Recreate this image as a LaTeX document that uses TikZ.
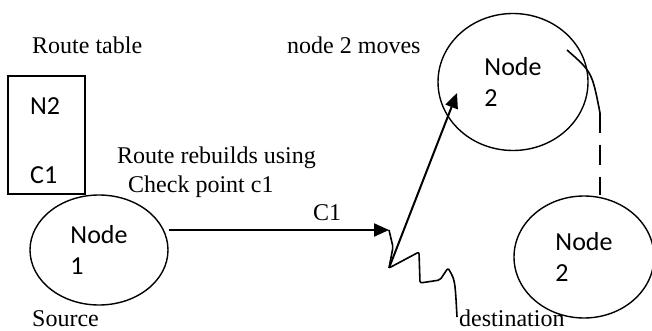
\documentclass[tikz,border=0pt]{standalone}
\usepackage{fontspec}
\setmainfont{Liberation Serif}
\newfontfamily\labelfont{Carlito}
\usetikzlibrary{shapes.geometric, arrows.meta}

\begin{document}
\begin{tikzpicture}[x=1pt, y=-1pt,
  every node/.style={inner sep=0pt, font=\fontsize{24}{28}\selectfont},
  mobile/.style={draw, ellipse, line width=1.4pt, align=left, font=\labelfont\fontsize{26}{31}\selectfont},
  entry/.style={anchor=base west, font=\labelfont\fontsize{26}{31}\selectfont},
  caption/.style={anchor=base west},
  link/.style={line width=2pt, -{Triangle[length=15pt, width=13pt]}},
  trace/.style={line width=1.6pt, line join=round}]
\useasboundingbox (0,0) rectangle (652,331);

\node[draw, line width=1.4pt, minimum width=77, minimum height=118] (rt) at (46.5,135) {};
\node[entry] (rtn) at (30,115) {N2};
\node[entry] (rtc) at (30,183) {C1};

\node[mobile, minimum width=138, minimum height=110] (n1) at (99,250) {Node\\1};
\node[mobile, minimum width=150, minimum height=137] (n2a) at (513,82) {Node\\2};
\node[mobile, minimum width=140, minimum height=122] (n2b) at (584,257) {Node\\2};

\node[caption] (title) at (32,54) {Route table};
\node[caption] (moves) at (287,54) {node 2 moves};
\node[caption] (rb1) at (117,164) {Route rebuilds using};
\node[caption] (rb2) at (128,192) {Check point c1};
\node[caption] (cp) at (313,220) {C1};
\node[caption] (src) at (32,326) {Source};
\node[caption] (dst) at (459,326) {destination};

\coordinate (z0) at (389,230);
\coordinate (z1) at (393,247);
\coordinate (z2) at (389,268);
\coordinate (z3) at (419,252);
\coordinate (z4) at (420,283);
\coordinate (z5) at (440,280);
\coordinate (z6) at (448,268);
\coordinate (z7) at (457,317);
\coordinate (tip) at (457,93);
\coordinate (m0) at (567,50);
\coordinate (m1) at (600,113);

\draw[link] (n1.east |- z0) -- (z0);
\draw[trace, rounded corners=2pt] (z0) -- (z1) -- (z2) -- (z3) -- (z4) -- (z5) -- (z6) .. controls (455,280) .. (z7);
\draw[link] (z2) -- (tip);

\draw[trace] (m0) .. controls (592,72) .. (m1);
\draw[trace, dash pattern=on 20pt off 12pt] (m1) -- (n2b.north -| m1);

\end{tikzpicture}
\end{document}
